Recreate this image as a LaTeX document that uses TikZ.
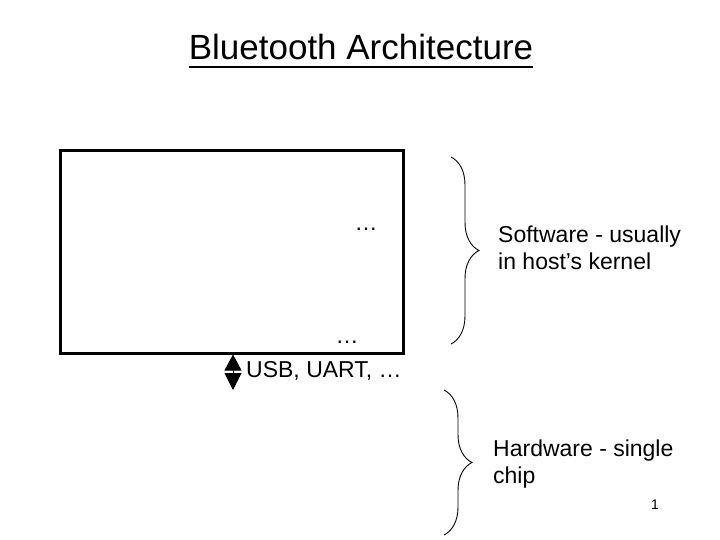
\documentclass[tikz,border=0pt]{standalone}
\usepackage{fontspec}
\setmainfont{Liberation Sans}
\usetikzlibrary{arrows.meta, decorations.pathreplacing}

\begin{document}
\begin{tikzpicture}[
    x=1pt, y=-1pt,
    % Styles
    label/.style = {inner sep=0pt, align=left, font=\fontsize{23}{26.7}\selectfont},
    dots/.style = {inner sep=0pt, anchor=base, font=\fontsize{23}{26.7}\selectfont},
    stackbox/.style = {rectangle, draw=black, line width=3pt, minimum width=343pt, minimum height=202pt},
    bracket/.style = {draw=black, line width=0.9pt, decorate, decoration={brace, amplitude=28pt}},
    linkarrow/.style = {{Triangle[width=17pt, length=16pt]}-{Triangle[width=17pt, length=17pt]}, line width=1pt}
]
\useasboundingbox (0,0) rectangle (720,540);

% --- TITLE ---
\node[inner sep=0pt, anchor=base, font=\fontsize{35}{40}\selectfont] (title) at (361,60) {Bluetooth Architecture};
\draw[line width=2pt] ([yshift=-7.5pt]title.base west) -- ([yshift=-7.5pt]title.base east);

% --- PROTOCOL STACK ---
\node[stackbox] (stack) at (231.5,252) {};
\node[dots] (dots_top) at (366,230) {\dots};
\node[dots] (dots_bottom) at (347,343) {\dots};

% --- HOST LINK ---
\coordinate (link) at (233,390);
\draw[linkarrow] (stack.south -| link) -- (link);
\node[label, anchor=base west] (bus) at (246,377) {USB, UART, \dots};

% --- BRACES ---
\coordinate (sw_top) at (451,157);
\coordinate (sw_bottom) at (451,344);
\draw[bracket] (sw_top) -- (sw_bottom);
\node[label, anchor=base west] (software) at (498,269) {Software - usually\\in host’s kernel};

\coordinate (hw_top) at (444,390);
\coordinate (hw_bottom) at (444,535);
\draw[bracket] (hw_top) -- (hw_bottom);
\node[label, anchor=base west] (hardware) at (493,483) {Hardware - single\\chip};

% --- PAGE NUMBER ---
\node[inner sep=0pt, anchor=base, font=\fontsize{14}{16}\selectfont] (page) at (655,509) {1};

\end{tikzpicture}
\end{document}
